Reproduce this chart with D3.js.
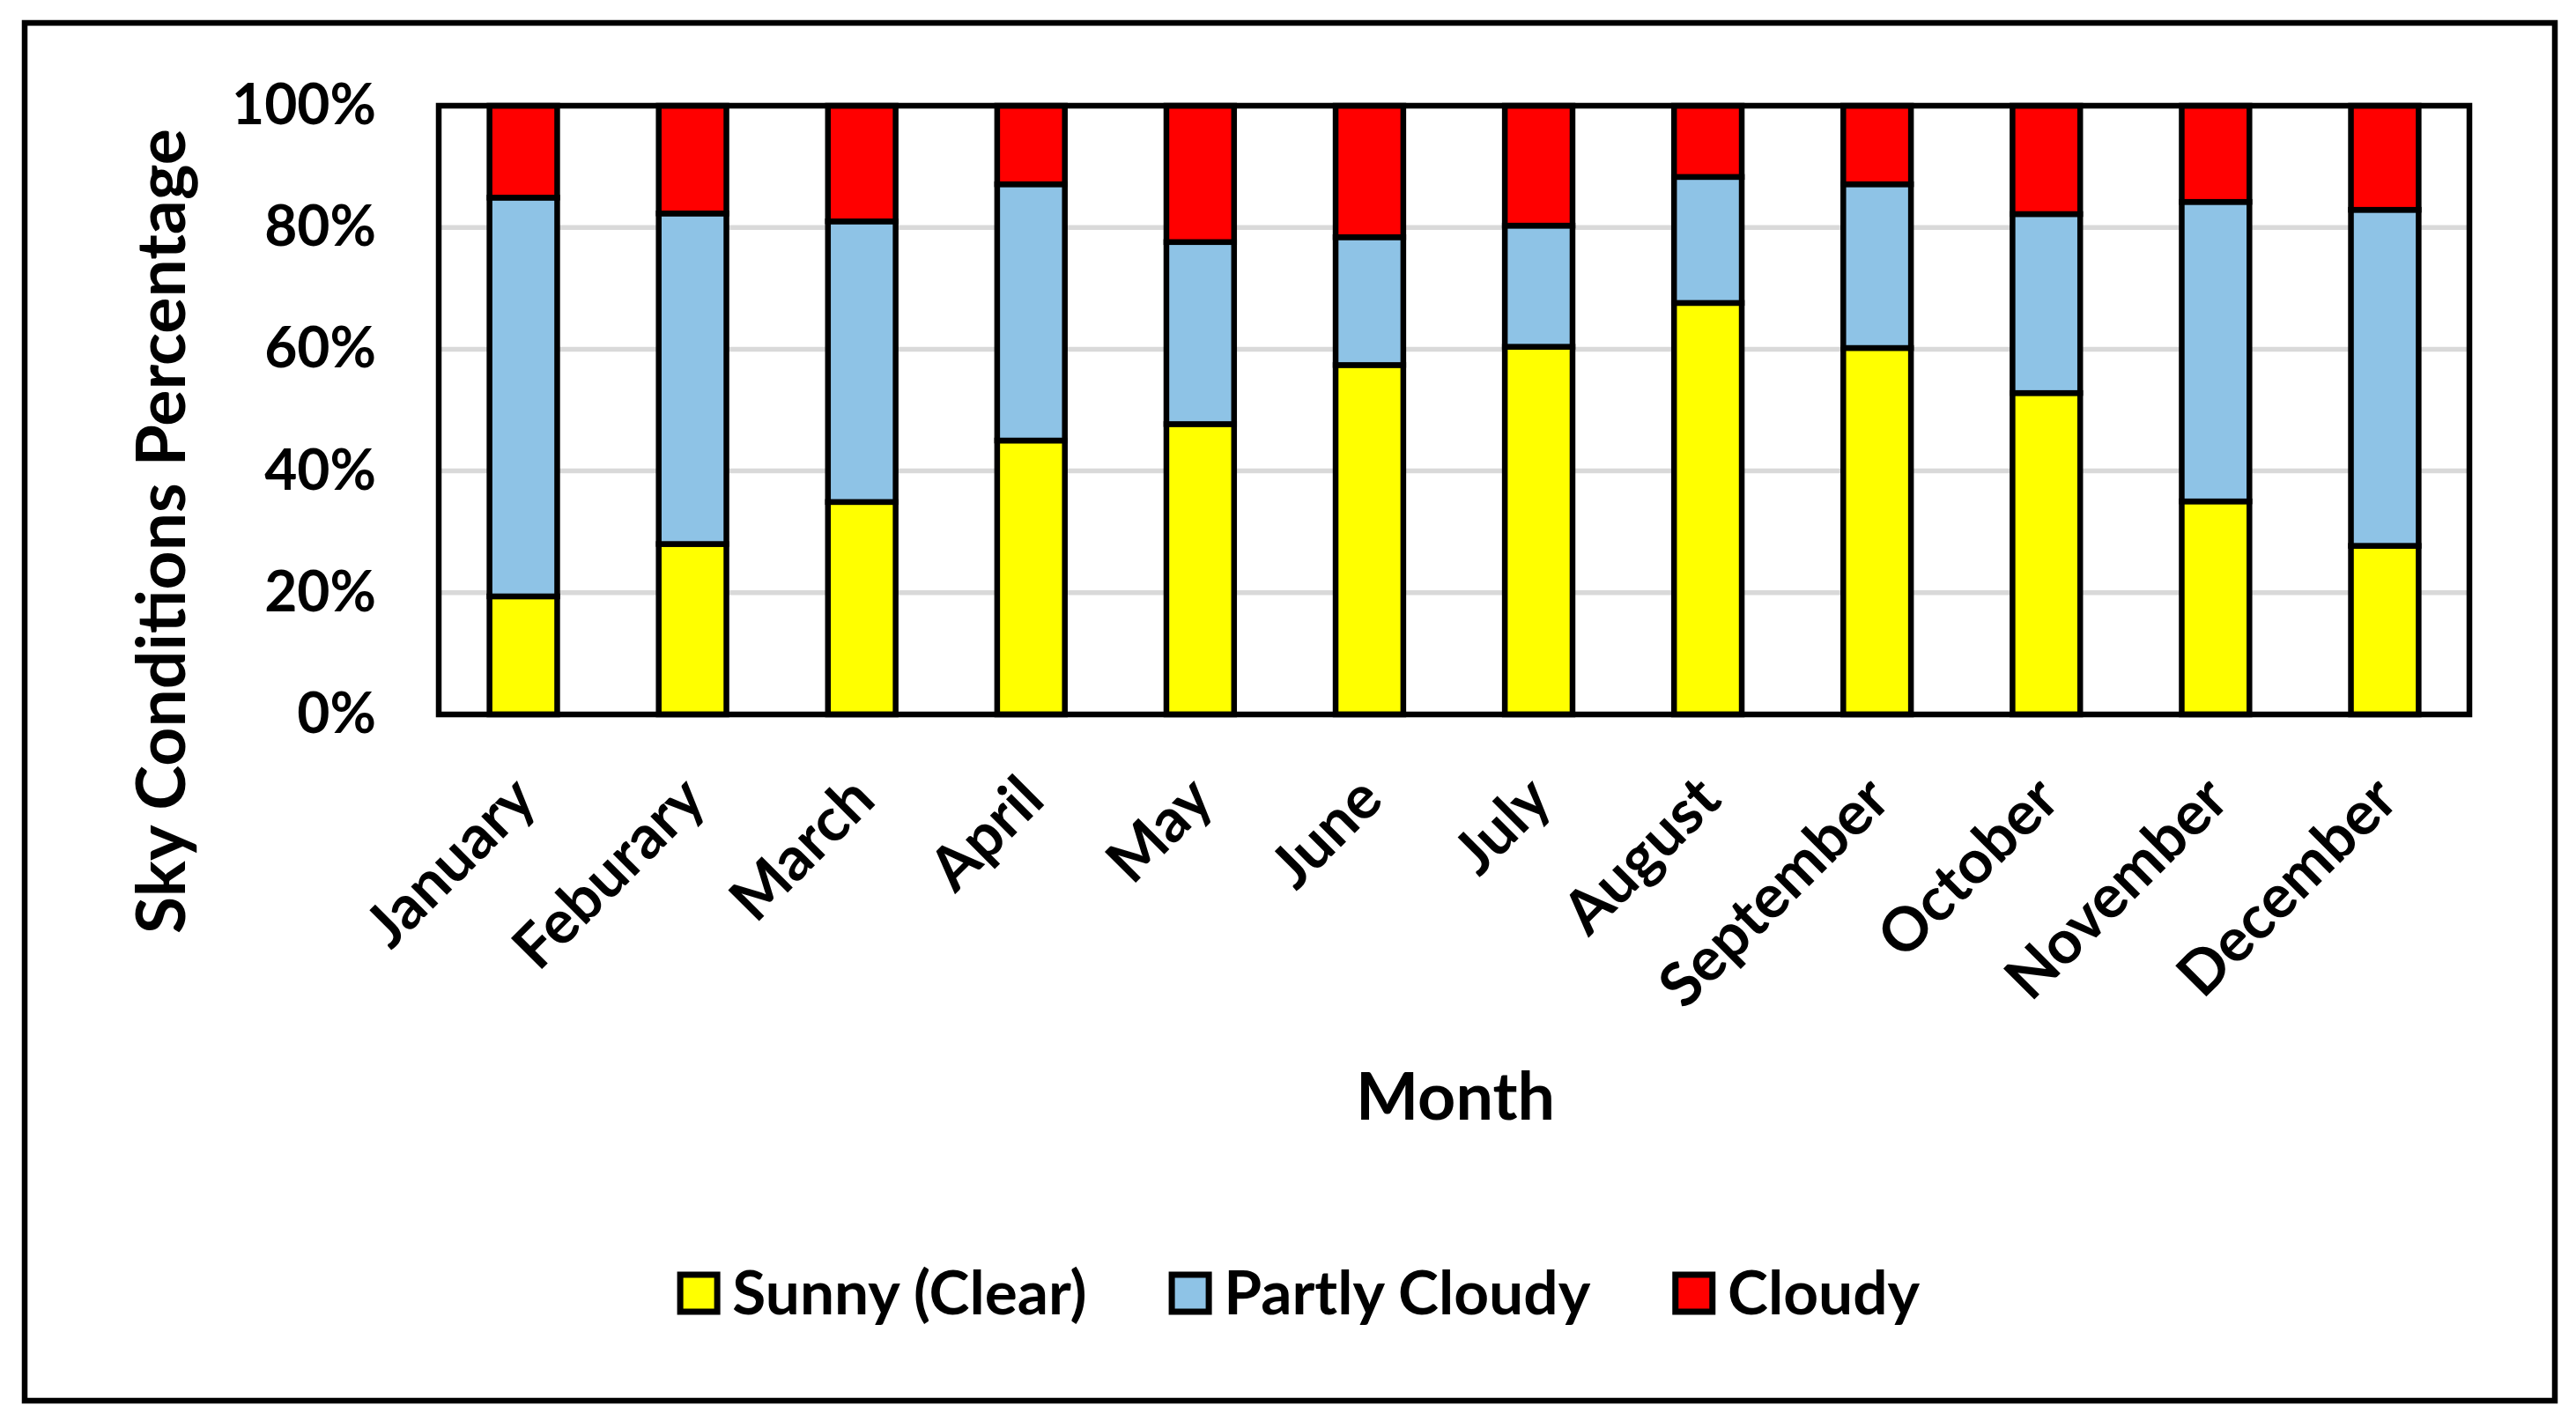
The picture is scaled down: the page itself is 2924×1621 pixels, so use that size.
<!DOCTYPE html>
<html><head><meta charset="utf-8">
<script src="https://cdn.jsdelivr.net/npm/d3@7"></script>
<style>html,body{margin:0;padding:0;background:#fff;} svg{display:block}</style>
</head><body><svg id="c" width="2924" height="1621"></svg>
<script>
// ---------- data ----------
const months = ["January","Feburary","March","April","May","June","July","August","September","October","November","December"];
const sunny        = [19.4, 28.0, 34.9, 45.0, 47.7, 57.4, 60.4, 67.6, 60.2, 52.8, 35.0, 27.7];
const partlyCloudy = [65.5, 54.3, 46.1, 42.1, 29.9, 21.0, 19.9, 20.7, 26.9, 29.4, 49.2, 55.2];
const cloudy       = [15.1, 17.7, 19.0, 12.9, 22.4, 21.6, 19.7, 11.7, 12.9, 17.8, 15.8, 17.1];
const seriesKeys   = ["sunny","partly","cloudy"];
const seriesNames  = ["Sunny (Clear)","Partly Cloudy","Cloudy"];
const seriesColors = ["#FFFF00","#8EC3E6","#FF0000"];
const yTicks       = [0,20,40,60,80,100];
const gridTicks    = [20,40,60,80];
const xTitle = "Month";
const yTitle = "Sky Conditions Percentage";

// ---------- setup ----------
const FONT = "Lato, 'Open Sans', sans-serif";
const svg = d3.select("#c");
const M = {left:498, right:2803, top:120, bottom:811};
const SW = 6.5;

function fitSize(text, target) {
  const t = svg.append("text").attr("font-family",FONT).attr("font-weight","bold")
    .attr("font-size",100).text(text);
  const w = t.node().getComputedTextLength();
  t.remove();
  return 100*target/w;
}

const tickFS   = fitSize("100%", 164);
const monthFS  = fitSize("January", 238);
const xTitleFS = fitSize(xTitle, 226);
const yTitleFS = fitSize(yTitle, 914);
const legFS    = fitSize("Partly Cloudy", 416);

// outer frame
svg.append("rect").attr("x",28).attr("y",26).attr("width",2872).attr("height",1564)
  .attr("fill","#fff").attr("stroke","#000").attr("stroke-width",SW);

const x = d3.scaleBand().domain(months).range([M.left, M.right]).paddingInner(0.6).paddingOuter(0.3);
const y = d3.scaleLinear().domain([0,100]).range([M.bottom, M.top]);

// gridlines
svg.append("g").selectAll("line").data(gridTicks).join("line")
  .attr("x1",M.left).attr("x2",M.right)
  .attr("y1",d=>y(d)).attr("y2",d=>y(d))
  .attr("stroke","#D9D9D9").attr("stroke-width",5.5);

// stacked bars
const rows = months.map((m,i)=>({month:m, sunny:sunny[i], partly:partlyCloudy[i], cloudy:cloudy[i]}));
const stacked = d3.stack().keys(seriesKeys)(rows);
svg.append("g").selectAll("g").data(stacked).join("g")
  .attr("fill",(d,i)=>seriesColors[i])
  .selectAll("rect").data(d=>d).join("rect")
  .attr("x",d=>x(d.data.month))
  .attr("width",x.bandwidth())
  .attr("y",d=>y(d[1]))
  .attr("height",d=>y(d[0])-y(d[1]))
  .attr("stroke","#000").attr("stroke-width",SW);

// plot border
svg.append("rect").attr("x",M.left).attr("y",M.top)
  .attr("width",M.right-M.left).attr("height",M.bottom-M.top)
  .attr("fill","none").attr("stroke","#000").attr("stroke-width",SW);

// y axis
const yAxis = svg.append("g").attr("transform",`translate(${M.left},0)`)
  .call(d3.axisLeft(y).tickValues(yTicks).tickFormat(d=>d+"%").tickSize(0).tickPadding(71));
yAxis.select(".domain").remove();
yAxis.selectAll("text").attr("font-family",FONT).attr("font-weight","bold")
  .attr("font-size",tickFS).attr("fill","#000");

// x axis
const xAxis = svg.append("g").attr("transform",`translate(0,${M.bottom})`)
  .call(d3.axisBottom(x).tickSize(0));
xAxis.select(".domain").remove();
xAxis.selectAll("text").attr("font-family",FONT).attr("font-weight","bold")
  .attr("font-size",monthFS).attr("fill","#000")
  .attr("x",0).attr("y",0).attr("dy",0)
  .attr("text-anchor","end")
  .attr("transform","translate(18,100) rotate(-45)");

// axis titles
svg.append("text").attr("x",1652).attr("y",1271)
  .attr("text-anchor","middle").attr("font-family",FONT).attr("font-weight","bold")
  .attr("font-size",xTitleFS).text(xTitle);
svg.append("text").attr("transform","translate(210,603) rotate(-90)")
  .attr("text-anchor","middle").attr("font-family",FONT).attr("font-weight","bold")
  .attr("font-size",yTitleFS).text(yTitle);

// legend
const legend = svg.append("g");
const mk = 42, gapMT = 14 + SW/2, gapItem = 90 + SW/2;
let cx = 0;
seriesNames.forEach((n,i)=>{
  const g = legend.append("g");
  g.append("rect").attr("x",SW/2).attr("y",-mk/2).attr("width",mk).attr("height",mk)
    .attr("fill",seriesColors[i]).attr("stroke","#000").attr("stroke-width",7);
  const t = g.append("text").attr("x",SW/2+mk+gapMT).attr("y",24)
    .attr("font-family",FONT).attr("font-weight","bold").attr("font-size",legFS).text(n);
  const w = SW/2+mk+gapMT + t.node().getComputedTextLength();
  g.attr("transform",`translate(${cx},0)`);
  cx += w + gapItem;
});
const totalW = cx - gapItem;
legend.attr("transform",`translate(${1474 - totalW/2},1468)`);
</script></body></html>
